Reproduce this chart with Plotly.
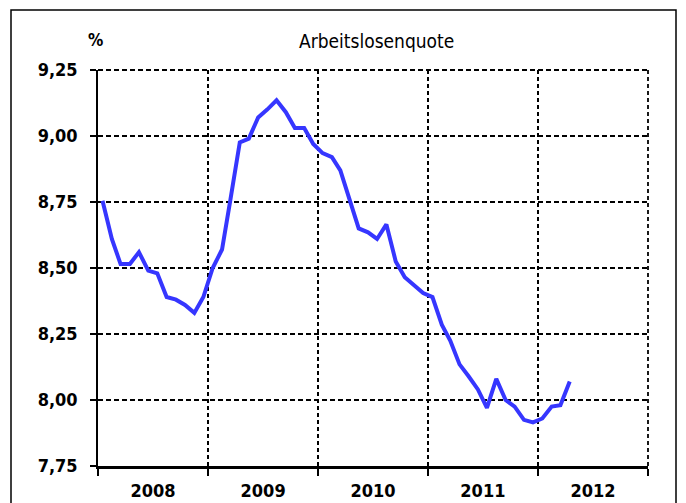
import pandas as pd
import plotly.graph_objects as go

# Monthly unemployment rate (%), Jan 2008 - Apr 2012
start_month = "2008-01-01"
rate = [8.755, 8.61, 8.515, 8.515, 8.56, 8.49, 8.48, 8.39, 8.38, 8.36, 8.33, 8.39,
        8.50, 8.57, 8.76, 8.976, 8.99, 9.07, 9.10, 9.135, 9.09, 9.03, 9.03, 8.97,
        8.935, 8.92, 8.87, 8.755, 8.65, 8.635, 8.61, 8.665, 8.525, 8.465, 8.435, 8.405,
        8.39, 8.285, 8.225, 8.135, 8.09, 8.04, 7.97, 8.08, 8.00, 7.975, 7.925, 7.915,
        7.93, 7.975, 7.98, 8.07]
y_ticks = [7.75, 8.00, 8.25, 8.50, 8.75, 9.00, 9.25]
y_ticktext = ["7,75", "8,00", "8,25", "8,50", "8,75", "9,00", "9,25"]
x_range = ["2008-01-01", "2013-01-01"]
title_text = "Arbeitslosenquote"
unit_text = "%"

months = pd.date_range(start_month, periods=len(rate), freq="MS") + pd.Timedelta(days=15)

FONT = "DejaVu Sans Condensed, Liberation Sans Narrow, Arial Narrow, sans-serif"

fig = go.Figure()
fig.add_trace(go.Scatter(x=months, y=rate, mode="lines",
                         line=dict(color="#3636FF", width=4), hoverinfo="skip"))

# page body adds an 8px offset; lay out in page pixels minus 8
OFF = 8
W, H = 686, 503
ml, mt = 98 - OFF, 70 - OFF
pw, ph = 550, 396
mr, mb = W - ml - pw, H - mt - ph

def px_x(x):
    return (x - OFF - ml) / pw

def px_y(y):
    return (mt + ph - (y - OFF)) / ph

GW = 1.8
fig.update_layout(
    width=W, height=H,
    margin=dict(l=ml, r=mr, t=mt, b=mb, autoexpand=False),
    paper_bgcolor="white", plot_bgcolor="white",
    showlegend=False,
    font=dict(family=FONT, color="black", size=18),
    xaxis=dict(
        type="date", range=x_range,
        tick0="2008-01-01", dtick="M12", tickformat="%Y", ticklabelmode="period",
        showgrid=True, gridcolor="black", gridwidth=GW, griddash="4px,3px",
        showline=True, linecolor="black", linewidth=2.5,
        ticks="outside", ticklen=7, tickwidth=1.5, tickcolor="black",
        tickfont=dict(family=FONT, size=18, color="black", weight="bold"),
        ticklabelstandoff=0, zeroline=False, fixedrange=True,
    ),
    yaxis=dict(
        range=[7.75, 9.25], tickvals=y_ticks, ticktext=y_ticktext,
        showgrid=True, gridcolor="black", gridwidth=GW, griddash="5px,3px",
        showline=True, linecolor="black", linewidth=1.5,
        ticks="outside", ticklen=6, tickwidth=1.5, tickcolor="black",
        tickfont=dict(family=FONT, size=18, color="black", weight="bold"),
        ticklabelstandoff=9, zeroline=False, fixedrange=True,
    ),
)

# top and right dashed border lines (plotly omits edge gridlines)
fig.add_shape(type="line", xref="paper", yref="paper", x0=0, x1=1, y0=1, y1=1,
              line=dict(color="black", width=GW, dash="5px,3px"), layer="below")
fig.add_shape(type="line", xref="paper", yref="paper", x0=1, x1=1, y0=0, y1=1,
              line=dict(color="black", width=GW, dash="4px,3px"), layer="below")

# outer frame
fig.add_shape(type="rect", xref="paper", yref="paper",
              x0=px_x(11), x1=px_x(676), y0=px_y(530), y1=px_y(10),
              line=dict(color="black", width=1.5), layer="above")

fig.add_annotation(text=title_text, xref="paper", yref="paper",
                   x=px_x(376), y=px_y(41), xanchor="center", yanchor="middle",
                   showarrow=False, font=dict(family=FONT, size=19, color="black"))
fig.add_annotation(text=unit_text, xref="paper", yref="paper",
                   x=px_x(95.5), y=px_y(40), xanchor="center", yanchor="middle",
                   showarrow=False, font=dict(family=FONT, size=17, color="black", weight="bold"))

fig.write_html("out.html")
